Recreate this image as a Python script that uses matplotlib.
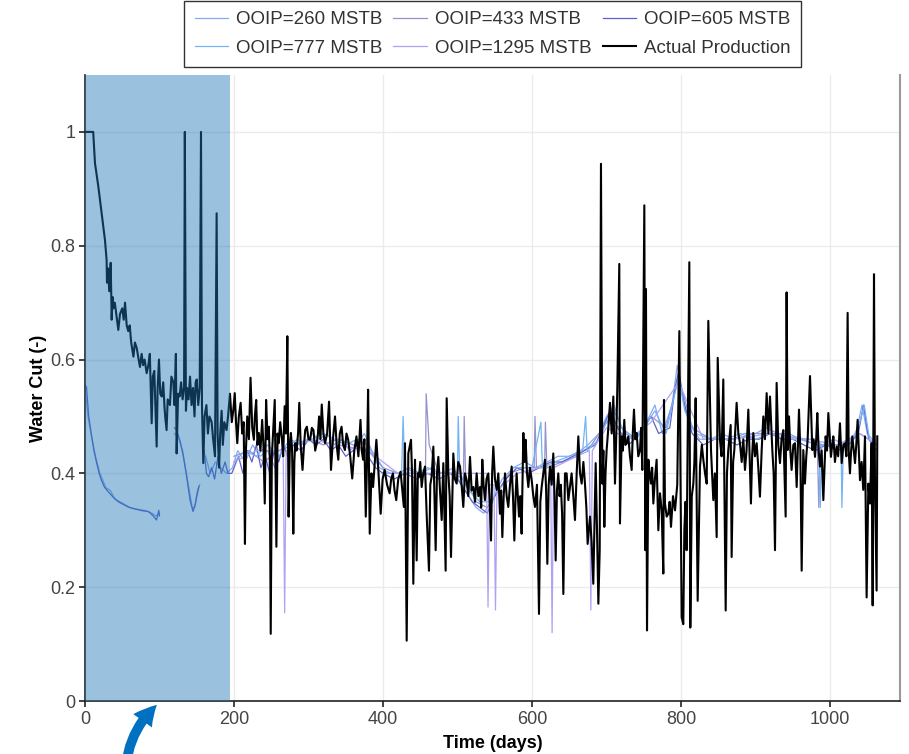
import numpy as np
import matplotlib
matplotlib.use("Agg")
import matplotlib.pyplot as plt
from matplotlib.patches import FancyArrowPatch

plt.rcParams['font.family'] = ['Liberation Sans', 'DejaVu Sans']

NAN = np.nan

# ---------------- data ----------------
actual = [
    (0, 1.0), (5, 1.0), (11, 1.0), (13.4, 0.945), (17.9, 0.904), (22.4, 0.857), (26.8, 0.81), (29, 0.775),
    (29.5, 0.735), (31, 0.76), (32.5, 0.72), (34.5, 0.77), (35.8, 0.67), (37, 0.71), (38, 0.69), (40, 0.70),
    (42, 0.68), (44.7, 0.652), (47, 0.68), (50, 0.69), (52, 0.67), (53.7, 0.70), (56, 0.66), (58, 0.65),
    (60, 0.66), (62, 0.63), (65, 0.605), (67, 0.63), (69.5, 0.62), (72, 0.60), (73.8, 0.587), (76, 0.61),
    (78, 0.59), (80, 0.60), (82.8, 0.576), (85, 0.59), (87, 0.61), (89.5, 0.488), (91, 0.57), (93, 0.58),
    (96.2, 0.447), (97.5, 0.55), (99.3, 0.60), (101, 0.54), (103, 0.535), (105, 0.56), (107, 0.51),
    (109.5, 0.476), (111, 0.53), (114, 0.52), (116, 0.57), (118.6, 0.56), (120, 0.52), (122, 0.61),
    (123, 0.435), (125, 0.54), (127, 0.535), (129, 0.56), (131, 0.53), (133, 0.55), (134, 1.0), (135.5, 0.51),
    (137, 0.55), (139, 0.53), (141, 0.57), (143, 0.52), (145, 0.55), (147, 0.50), (148.5, 0.56), (150, 0.565),
    (152, 0.52), (154, 0.55), (155.7, 1.0), (157, 0.52), (158.8, 0.418), (160.5, 0.50), (163, 0.52),
    (165, 0.47), (167, 0.50), (170, 0.49), (172, 0.46), (174.5, 0.43), (176.7, 0.857), (178, 0.47),
    (180, 0.41), (181.5, 0.47), (183.4, 0.51), (185, 0.45), (187, 0.49), (190, 0.476), (192, 0.50),
    (194.6, 0.54), (197, 0.49), (199, 0.51),
    (201, 0.541), (202.7, 0.49), (204.4, 0.453), (206.5, 0.50), (208.9, 0.524), (211, 0.47), (213, 0.49),
    (214.7, 0.276), (216, 0.44), (217.8, 0.50), (220, 0.46), (222.2, 0.568), (224.5, 0.48), (226.7, 0.459),
    (228, 0.50), (229.8, 0.529), (231.5, 0.45), (233.3, 0.471), (235.5, 0.44), (237.8, 0.494), (239.5, 0.45),
    (241.3, 0.347), (243.1, 0.529), (245, 0.46), (246.7, 0.482), (248, 0.43), (249.3, 0.118), (250.8, 0.43),
    (252, 0.459), (253.5, 0.50), (254.7, 0.529), (256.9, 0.271), (258.5, 0.47), (260, 0.453), (262, 0.49),
    (264.4, 0.459), (266, 0.43), (268, 0.518), (269.8, 0.47), (271.6, 0.641), (273.3, 0.324), (275, 0.45),
    (276.4, 0.471), (278, 0.44), (279.6, 0.294), (281, 0.42), (282.2, 0.453), (284, 0.44), (286, 0.47),
    (287.6, 0.524), (289.5, 0.45), (292, 0.406), (294, 0.45), (295.6, 0.476), (297.8, 0.482), (300, 0.46),
    (302.2, 0.459), (304.5, 0.48), (306.7, 0.476), (309, 0.44), (311.1, 0.453), (312.7, 0.47), (314.2, 0.50),
    (316, 0.46), (317.8, 0.521), (320, 0.47), (322.2, 0.453), (325, 0.47), (327.6, 0.526), (330.2, 0.406),
    (332.8, 0.46), (335.6, 0.50), (337.8, 0.45), (340, 0.424), (342, 0.47), (344.4, 0.482), (346.5, 0.45),
    (348.9, 0.441), (351, 0.47), (353.3, 0.459), (356, 0.43), (358.7, 0.391), (361.5, 0.44), (364.4, 0.465),
    (367, 0.43), (369.8, 0.494), (371.5, 0.44), (373.3, 0.424), (375, 0.46), (376.9, 0.324), (378.5, 0.42),
    (380, 0.547), (382.2, 0.294), (384.5, 0.40), (386.7, 0.376), (389, 0.42), (391.1, 0.459), (394, 0.40),
    (396.9, 0.329), (399.5, 0.39), (402.2, 0.406), (405.5, 0.38), (408.9, 0.365), (411, 0.39), (413.3, 0.40),
    (415.5, 0.37), (417.8, 0.353), (420.5, 0.39), (423.6, 0.403), (426, 0.37), (428, 0.341),
    (429.5, 0.453), (431.8, 0.106), (434, 0.435), (437.6, 0.459), (439, 0.40), (440.7, 0.206), (443, 0.424),
    (445.2, 0.247), (446.8, 0.40), (448.3, 0.394), (450, 0.42), (451.9, 0.376), (454, 0.40), (456.4, 0.412),
    (458.6, 0.329), (461.7, 0.229), (463.5, 0.38), (465.3, 0.394), (467.6, 0.447), (470.7, 0.265),
    (472.5, 0.40), (474.3, 0.429), (476.5, 0.37), (478.8, 0.318), (481, 0.418), (484.1, 0.229),
    (485.5, 0.532), (487.7, 0.40), (489.5, 0.36), (491.3, 0.253), (494.4, 0.435), (496.5, 0.39),
    (498.9, 0.382), (501, 0.42), (503.4, 0.412), (505.5, 0.38), (507.8, 0.341), (510, 0.40), (512.3, 0.388),
    (514.5, 0.36), (516.8, 0.429), (519, 0.37), (521.3, 0.376), (523.5, 0.35), (525.7, 0.40), (528, 0.36),
    (530.2, 0.376), (531.8, 0.34), (533.3, 0.424), (535, 0.38), (536.9, 0.353), (539, 0.39), (541.4, 0.40),
    (543.2, 0.35), (545, 0.282), (546.5, 0.40), (548.1, 0.447), (550.3, 0.39), (552.6, 0.371), (554.8, 0.40),
    (557, 0.329), (558.6, 0.37), (560.2, 0.288), (562, 0.36), (563.8, 0.40), (566, 0.36), (568.2, 0.341),
    (570.5, 0.38), (572.7, 0.412), (574.5, 0.36), (576.3, 0.282), (578, 0.36), (579.4, 0.40), (581, 0.36),
    (582.6, 0.324), (584.3, 0.36), (586.1, 0.294), (588.4, 0.471), (590, 0.42), (591.5, 0.459),
    (593.3, 0.40), (595.1, 0.376), (597.3, 0.41), (599.6, 0.388), (601.8, 0.36), (604, 0.341), (606.7, 0.38),
    (609.4, 0.153), (611.2, 0.35), (613, 0.376), (615.2, 0.40), (617.4, 0.424), (619, 0.37), (620.6, 0.241),
    (622.4, 0.38), (624.2, 0.412), (626.4, 0.38), (628.6, 0.435), (630.2, 0.36), (631.8, 0.247),
    (633.5, 0.37), (635.3, 0.40), (637, 0.36), (638.7, 0.38), (640.4, 0.33), (642.1, 0.188), (644.3, 0.40),
    (646.5, 0.40), (648.8, 0.353), (651, 0.376), (653.2, 0.40), (655.5, 0.36), (657.7, 0.318), (660, 0.40),
    (662.2, 0.465), (664.5, 0.40), (666.7, 0.382), (669, 0.42), (671.1, 0.382), (673, 0.34), (674.7, 0.276),
    (677.9, 0.324), (680, 0.28), (682.3, 0.206), (685.5, 0.418), (687.3, 0.30), (689.1, 0.171),
    (690.9, 0.265), (692.6, 0.944), (694.4, 0.382), (695.8, 0.44), (697.1, 0.306), (698.7, 0.40),
    (700.2, 0.441), (702.5, 0.48), (704.7, 0.524), (707, 0.47), (709.2, 0.535), (711.4, 0.382), (713, 0.46),
    (714.5, 0.547), (717.2, 0.768), (718.1, 0.312), (720.4, 0.465), (722, 0.44), (723.9, 0.494),
    (725.5, 0.45), (727.1, 0.453), (729.3, 0.465), (731.5, 0.43), (733.8, 0.406), (735.3, 0.47),
    (736.9, 0.512), (738.7, 0.46), (740.5, 0.471), (742.7, 0.43), (745, 0.441), (746.5, 0.48), (748.1, 0.406),
    (750.8, 0.871), (752.1, 0.265), (753, 0.724), (754.4, 0.124), (756.2, 0.424), (758, 0.40),
    (759.7, 0.382), (761.3, 0.41), (762.9, 0.347), (765, 0.39), (767.3, 0.424), (769.6, 0.30), (771.8, 0.365),
    (774.1, 0.335), (776.3, 0.224), (777.2, 0.529), (778.5, 0.347), (780.8, 0.324), (783, 0.329),
    (784.8, 0.35), (786.6, 0.306), (789.3, 0.36), (792, 0.335), (795, 0.38), (797.8, 0.65), (800.9, 0.147),
    (803.1, 0.135), (804.5, 0.30), (806, 0.35), (807.6, 0.265), (811.2, 0.771), (812.5, 0.129),
    (814.5, 0.36), (816.6, 0.382), (818, 0.42), (819.7, 0.532), (822.4, 0.176), (825.5, 0.412), (828, 0.45),
    (830, 0.424), (832.3, 0.40), (834.5, 0.382), (836.7, 0.668), (840.3, 0.441), (843.4, 0.353),
    (845.5, 0.40), (847.9, 0.288), (849.3, 0.603), (852.3, 0.459), (854.5, 0.43), (856.8, 0.565),
    (860, 0.159), (861.7, 0.40), (863.5, 0.441), (866.7, 0.485), (868, 0.253), (870, 0.42), (871.6, 0.441),
    (874.7, 0.524), (877, 0.47), (879.2, 0.453), (881.5, 0.42), (883.7, 0.46), (885.9, 0.406), (888, 0.44),
    (890.4, 0.512), (893.9, 0.347), (895.5, 0.43), (897.1, 0.471), (899.3, 0.43), (901.6, 0.453),
    (903.8, 0.41), (906, 0.359), (908.3, 0.44), (910.5, 0.50), (912.7, 0.46), (915, 0.541), (917.3, 0.47),
    (919.5, 0.535), (922.6, 0.441), (924.4, 0.40), (926.2, 0.265), (928.4, 0.559), (930.6, 0.45),
    (932.9, 0.418), (935, 0.46), (937.4, 0.476), (940.5, 0.324), (941.8, 0.718), (943.2, 0.441), (945, 0.50),
    (946.8, 0.44), (948.5, 0.406), (950.8, 0.45), (953, 0.453), (955.3, 0.376), (958.4, 0.512), (960.2, 0.44),
    (962, 0.229), (964.2, 0.441), (966.4, 0.382), (968.2, 0.43), (970, 0.459), (973.2, 0.571), (976.3, 0.441),
    (978, 0.46), (979.9, 0.429), (981.5, 0.46), (983, 0.506), (984.8, 0.44), (986.6, 0.412), (988.8, 0.44),
    (991.1, 0.353), (994.2, 0.465), (996, 0.44), (997.8, 0.506), (1001.3, 0.429), (1003, 0.45),
    (1004.5, 0.465), (1006.7, 0.42), (1008.9, 0.447), (1011, 0.43), (1013.4, 0.488), (1015.7, 0.418),
    (1018, 0.45), (1020.1, 0.453), (1022, 0.43), (1023.7, 0.682), (1025.1, 0.441), (1026.8, 0.40),
    (1028.4, 0.44), (1030, 0.465), (1033.6, 0.418), (1035.3, 0.45), (1037.1, 0.494), (1040.3, 0.388),
    (1042.5, 0.42), (1044.7, 0.371), (1047, 0.465), (1049.2, 0.182), (1051.5, 0.382), (1053.7, 0.347),
    (1055.9, 0.453), (1057.3, 0.168), (1059.1, 0.75), (1060.4, 0.382), (1062.6, 0.194), (1063.5, 0.465),
]

sim_605 = [
    (0, 0.555), (2, 0.552), (5, 0.50), (9, 0.465), (12, 0.44), (15.7, 0.418), (19, 0.40), (22, 0.388),
    (26, 0.376), (31, 0.368), (38, 0.358), (44.7, 0.35), (52, 0.345), (58, 0.341), (65, 0.338),
    (71.6, 0.336), (78, 0.334), (85, 0.333), (91, 0.326), (96, 0.318), (99, 0.335), (100, 0.325),
    (101, NAN),
    (106, 0.53), (107, 0.51), (108, 0.49), (109, NAN),
    (120, 0.48), (123, 0.476), (128, 0.455), (132, 0.43), (136.5, 0.394), (141, 0.353), (145, 0.333),
    (148, 0.345), (150, 0.359), (153, 0.377), (155, NAN),
    (160, 0.44), (163, 0.40), (166, 0.394), (170, 0.41), (174, 0.39), (178.5, 0.43), (183, 0.40),
    (188, 0.42), (192, 0.40), (197, 0.40),
    (200, 0.41), (206, 0.43), (212, 0.40), (218, 0.44), (224, 0.42), (230, 0.45), (236, 0.41),
    (242, 0.43), (248, 0.40), (254, 0.44), (260, 0.42), (266, 0.45), (272, 0.43), (280, 0.45),
    (290, 0.44), (300, 0.46), (310, 0.45), (320, 0.46), (330, 0.44), (340, 0.45), (350, 0.43),
    (360, 0.44), (370, 0.46), (380, 0.43), (390, 0.41), (400, 0.40), (415, 0.39), (430, 0.40),
    (445, 0.39), (460, 0.40), (475, 0.39), (490, 0.40), (500, 0.39), (510, 0.37), (520, 0.35),
    (530, 0.34), (540, 0.33), (550, 0.36), (565, 0.39), (580, 0.41), (595, 0.40), (610, 0.41),
    (625, 0.42), (640, 0.42), (655, 0.43), (670, 0.44), (685, 0.45), (695, 0.48), (705, 0.51),
    (715, 0.48), (730, 0.45), (745, 0.47), (760, 0.50), (770, 0.47), (785, 0.48), (792, 0.55),
    (797, 0.58), (803, 0.53), (815, 0.47), (830, 0.45), (845, 0.46), (860, 0.46), (875, 0.45),
    (890, 0.46), (905, 0.46), (920, 0.47), (935, 0.46), (950, 0.46), (965, 0.45), (980, 0.44),
    (995, 0.45), (1010, 0.44), (1025, 0.45), (1038, 0.47), (1045, 0.52), (1052, 0.46), (1063, 0.44),
]

sim_260 = [
    (0, 0.55), (4, 0.50), (8, 0.47), (14, 0.43), (20, 0.40), (28, 0.375), (34, 0.37), (40, 0.355),
    (50, 0.348), (60, 0.34), (70, 0.337), (80, 0.335), (90, 0.33), (95, 0.325), (100, 0.33), (102, NAN),
    (120, 0.47), (126, 0.46), (131, 0.44), (136, 0.40), (140, 0.37), (144, 0.34), (147, 0.34),
    (151, 0.37), (154, 0.38), (156, NAN),
    (162, 0.43), (168, 0.40), (175, 0.42), (182, 0.41), (190, 0.40), (198, 0.41),
    (205, 0.44), (215, 0.42), (225, 0.45), (235, 0.43), (245, 0.44), (255, 0.41), (265, 0.44),
    (275, 0.45), (285, 0.46), (295, 0.45), (305, 0.47), (315, 0.46), (325, 0.47), (335, 0.45),
    (345, 0.46), (355, 0.44), (365, 0.45), (375, 0.47), (385, 0.44), (395, 0.42), (405, 0.40),
    (420, 0.40), (435, 0.41), (450, 0.40), (465, 0.41), (480, 0.40), (495, 0.41), (505, 0.38),
    (515, 0.36), (525, 0.34), (535, 0.33), (545, 0.35), (560, 0.38), (575, 0.41), (590, 0.42),
    (605, 0.41), (620, 0.42), (635, 0.43), (650, 0.43), (665, 0.44), (675, 0.45), (690, 0.47),
    (700, 0.50), (710, 0.52), (720, 0.48), (735, 0.46), (750, 0.48), (765, 0.52), (775, 0.47),
    (788, 0.52), (795, 0.59), (800, 0.55), (810, 0.49), (825, 0.46), (840, 0.46), (855, 0.47),
    (870, 0.46), (885, 0.47), (900, 0.47), (915, 0.48), (930, 0.47), (945, 0.47), (960, 0.46),
    (975, 0.46), (990, 0.45), (1005, 0.46), (1020, 0.45), (1035, 0.47), (1043, 0.52), (1050, 0.47),
    (1063, 0.45),
]

sim_777 = [
    (200, 0.42), (215, 0.44), (230, 0.43), (245, 0.45), (260, 0.43), (275, 0.46), (290, 0.45),
    (305, 0.46), (320, 0.47), (335, 0.46), (350, 0.45), (365, 0.46), (380, 0.45), (395, 0.41),
    (410, 0.40), (425, 0.40), (427, 0.50), (429, 0.41), (445, 0.40), (460, 0.41), (475, 0.40),
    (490, 0.40), (500, 0.40), (501, 0.50), (503, 0.40), (515, 0.37), (530, 0.35), (545, 0.35),
    (560, 0.39), (575, 0.41), (590, 0.41), (600, 0.41), (612, 0.49), (614, 0.41), (630, 0.42),
    (650, 0.43), (668, 0.44), (672, 0.50), (674, 0.44), (690, 0.46), (700, 0.49), (710, 0.51),
    (725, 0.47), (740, 0.46), (755, 0.49), (765, 0.51), (780, 0.47), (790, 0.53), (797, 0.57),
    (805, 0.51), (820, 0.47), (840, 0.46), (860, 0.46), (880, 0.47), (900, 0.46), (920, 0.47),
    (940, 0.46), (960, 0.46), (985, 0.45), (987, 0.34), (989, 0.45), (1000, 0.45), (1015, 0.45),
    (1016, 0.34), (1018, 0.45), (1030, 0.46), (1040, 0.49), (1046, 0.52), (1053, 0.46), (1063, 0.45),
]

sim_433 = [
    (200, 0.43), (220, 0.44), (240, 0.42), (260, 0.44), (280, 0.45), (300, 0.46), (320, 0.45),
    (340, 0.46), (360, 0.45), (380, 0.44), (400, 0.41), (420, 0.40), (440, 0.40), (457, 0.40),
    (458, 0.54), (462, 0.45), (475, 0.40), (495, 0.40), (508, 0.39), (509, 0.50), (511, 0.39),
    (525, 0.35), (540, 0.34), (555, 0.37), (570, 0.40), (590, 0.41), (603, 0.41), (604, 0.50),
    (606, 0.41), (617, 0.41), (618, 0.49), (620, 0.41), (640, 0.42), (660, 0.43), (680, 0.45),
    (700, 0.49), (720, 0.48), (740, 0.46), (760, 0.50), (780, 0.48), (797, 0.57), (815, 0.48),
    (840, 0.46), (870, 0.46), (900, 0.47), (930, 0.47), (960, 0.46), (983, 0.45), (985, 0.34),
    (987, 0.45), (1010, 0.45), (1040, 0.47), (1063, 0.45),
]

sim_1295 = [
    (200, 0.42), (230, 0.44), (266, 0.44), (268, 0.155), (270, 0.44), (300, 0.46), (340, 0.45),
    (380, 0.44), (420, 0.40), (460, 0.40), (500, 0.40), (539, 0.40), (541, 0.165), (543, 0.38),
    (549, 0.38), (551, 0.16), (553, 0.37), (580, 0.40), (610, 0.41), (625, 0.41), (627, 0.12),
    (629, 0.41), (660, 0.43), (677, 0.44), (679, 0.16), (681, 0.44), (700, 0.48), (730, 0.46),
    (760, 0.49), (797, 0.56), (830, 0.46), (870, 0.46), (920, 0.47), (970, 0.46), (1010, 0.45),
    (1040, 0.47), (1063, 0.45),
]

labels = ["OOIP=260 MSTB", "OOIP=433 MSTB", "OOIP=605 MSTB",
          "OOIP=777 MSTB", "OOIP=1295 MSTB", "Actual Production"]
colors = ["#86aaf2", "#9593cb", "#5f63c8", "#72b4f5", "#ada3f3", "#000000"]
history_end = 195
x_ticks = [0, 200, 400, 600, 800, 1000]
y_ticks = [0, 0.2, 0.4, 0.6, 0.8, 1.0]
y_tick_labels = ["0", "0.2", "0.4", "0.6", "0.8", "1"]

# ---------------- plot ----------------
fig = plt.figure(figsize=(9.09, 7.54), dpi=100)
ax = fig.add_axes([85 / 909, 53 / 754, 815 / 909, 626 / 754])

series = [sim_260, sim_433, sim_605, sim_777, sim_1295, actual]
handles = {}
for data, lab, col in zip(series, labels, colors):
    arr = np.array(data, dtype=float)
    is_actual = lab.startswith("Actual")
    h, = ax.plot(arr[:, 0], arr[:, 1], color=col, lw=1.5 if is_actual else 0.9,
                 zorder=3 if is_actual else 2, label=lab)
    handles[lab] = h

ax.axvspan(0, history_end, color="#1f77b4", alpha=0.45, lw=0, zorder=4)

ax.set_xlim(0, 1094)
ax.set_ylim(0, 1.1)
ax.set_xticks(x_ticks)
ax.set_yticks(y_ticks)
ax.set_yticklabels(y_tick_labels)
ax.grid(True, color="#ebebeb", lw=1, zorder=0)
ax.set_axisbelow(True)
ax.tick_params(axis="both", labelsize=13, labelcolor="#444444", color="#222222",
               length=4, width=1.2, direction="out", pad=3)
for s in ["left", "bottom"]:
    ax.spines[s].set_color("#222222")
    ax.spines[s].set_linewidth(1.2)
ax.spines["top"].set_visible(False)
ax.spines["right"].set_color("#999999")
ax.spines["right"].set_linewidth(1.5)

ax.set_xlabel("Time (days)", fontsize=13, fontweight="bold", labelpad=5)
ax.set_ylabel("Water Cut (-)", fontsize=13, fontweight="bold", labelpad=2)

order = ["OOIP=260 MSTB", "OOIP=777 MSTB", "OOIP=433 MSTB", "OOIP=1295 MSTB",
         "OOIP=605 MSTB", "Actual Production"]
leg = fig.legend([handles[k] for k in order], order, loc="upper center",
                 bbox_to_anchor=(492.5 / 909, 0.999), ncol=3, fontsize=13.5,
                 frameon=True, fancybox=False, edgecolor="#333333", framealpha=1,
                 handlelength=1.8, handletextpad=0.4, columnspacing=0.6,
                 labelspacing=0.62, borderpad=0.55, borderaxespad=0)
leg.get_frame().set_linewidth(1.0)
for t in leg.get_texts():
    t.set_color("#333333")

arrow = FancyArrowPatch(posA=(126 / 909, -12 / 754), posB=(159 / 909, 1 - 703 / 754),
                        transform=fig.transFigure, connectionstyle="arc3,rad=-0.2",
                        arrowstyle="simple,head_width=0.75,head_length=0.7,tail_width=0.32",
                        mutation_scale=22, color="#0070c0", lw=0, clip_on=False)
fig.add_artist(arrow)

fig.savefig("out.png", dpi=100)
